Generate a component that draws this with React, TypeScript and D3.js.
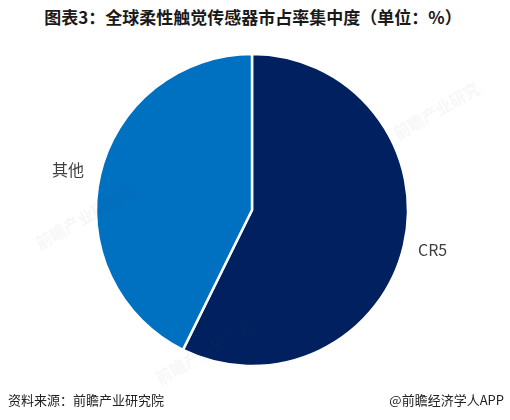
import React from "react";
import * as d3 from "d3";

const categories = ["CR5", "其他"];
const shares = [57.3, 42.7];
const colors = ["#002060", "#0070C0"];
const titleText = "图表3：全球柔性触觉传感器市占率集中度（单位：%）";
const sourceText = "资料来源：前瞻产业研究院";
const brandText = "@前瞻经济学人APP";

export default function App() {
  const W = 510, H = 420;
  const cx = 252, cy = 210, r = 156;
  const data = categories.map((c, i) => ({ name: c, value: shares[i] }));
  const pie = d3.pie<{ name: string; value: number }>().sort(null).value((d) => d.value);
  const arcs = pie(data);
  const arc = d3.arc<d3.PieArcDatum<{ name: string; value: number }>>().innerRadius(0).outerRadius(r);
  const labelPos = [
    { x: 418, y: 256, anchor: "start" },
    { x: 84, y: 176, anchor: "end" },
  ];
  return (
    <svg width={W} height={H} style={{ position: "absolute", left: 0, top: 0, background: "#fff" }}
      fontFamily="'Noto Sans CJK SC', 'Noto Sans', sans-serif">
      <rect width={W} height={H} fill="#fff" />
      <text x={253} y={24} textAnchor="middle" fontSize={17} fontWeight="bold" fill="#1a1a1a">{titleText}</text>
      <g transform={`translate(${cx},${cy})`}>
        {arcs.map((a, i) => (
          <path key={i} d={arc(a) || ""} fill={colors[i]} stroke="#fff" strokeWidth={2.5} />
        ))}
      </g>
      {/* faint watermarks */}
      <g opacity={0.05} fill="#555" fontSize={16} fontWeight="bold">
        <text transform="translate(40,250) rotate(-30)">前瞻产业研究院</text>
        <text transform="translate(160,385) rotate(-30)">前瞻产业研究院</text>
        <text transform="translate(398,140) rotate(-30)">前瞻产业研究</text>
      </g>
      {arcs.map((a, i) => (
        <text key={i} x={labelPos[i].x} y={labelPos[i].y} textAnchor={labelPos[i].anchor as any}
          fontSize={16} fill="#404040">{categories[i]}</text>
      ))}
      <text x={8} y={405} fontSize={13} fill="#222">{sourceText}</text>
      <text x={504} y={405} textAnchor="end" fontSize={13} fill="#222">{brandText}</text>
    </svg>
  );
}
